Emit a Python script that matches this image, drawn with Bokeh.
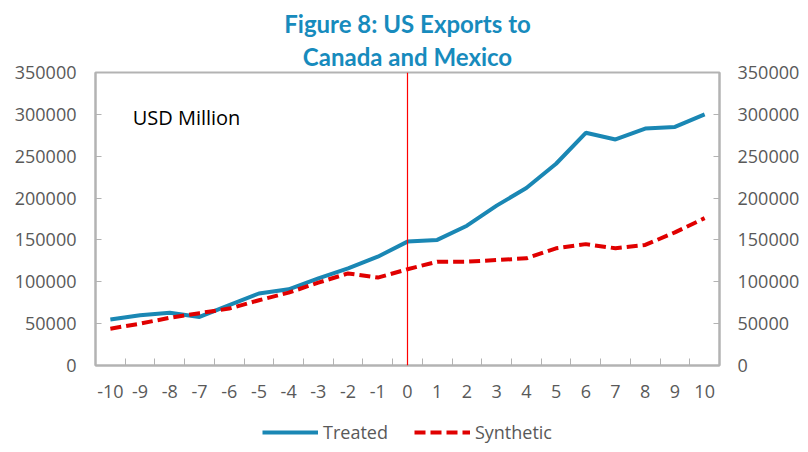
from bokeh.plotting import figure
from bokeh.layouts import column
from bokeh.models import (Range1d, LinearAxis, FixedTicker, BasicTickFormatter,
                          Span, Label, Legend, LegendItem, Title)
from bokeh.embed import file_html
from bokeh.resources import INLINE

# ---- data ----
periods = list(range(-10, 11))
treated = [55000, 60000, 63000, 58000, 72000, 86000, 91000, 104000, 116000, 130000,
           148000, 150000, 167000, 191000, 212000, 241000, 278000, 270000, 283000, 285000, 300000]
synthetic = [44000, 50000, 57000, 62500, 68000, 78000, 87000, 99000, 110000, 105000,
             115000, 124000, 124000, 126000, 128000, 140000, 145000, 140000, 144000, 159000, 176000]
y_ticks = [0, 50000, 100000, 150000, 200000, 250000, 300000, 350000]
x_tick_labels = {v: str(v) for v in periods}
title_lines = ["Figure 8: US Exports to", "Canada and Mexico"]
unit_label = "USD Million"
series_names = ["Treated", "Synthetic"]
treatment_period = 0

TEAL = "#1a87b4"
RED = "#e00000"
GRAY = "#b3b3b3"
TXT = "#595959"
FONT = "Open Sans"
TFONT = "Lato"

p = figure(frame_width=624, frame_height=293, output_backend="svg", toolbar_location=None,
           x_range=Range1d(-10.5, 10.5), y_range=Range1d(0, 350000),
           min_border_left=95, min_border_right=81, min_border_top=72, min_border_bottom=52,
           y_axis_location=None, x_axis_location=None)
p.title = None
p.background_fill_color = "white"
p.border_fill_color = "white"
p.outline_line_color = GRAY
p.outline_line_width = 2
p.xgrid.visible = False
p.ygrid.visible = False

# titles
t2 = Title(text=title_lines[1], align="center", text_font=TFONT,
           text_font_size="24px", text_font_style="bold", text_color="#178bbd", standoff=4)
t1 = Title(text=title_lines[0], align="center", text_font=TFONT,
           text_font_size="24px", text_font_style="bold", text_color="#178bbd", standoff=0)
p.add_layout(t2, "above")
p.add_layout(t1, "above")

def style_y(ax):
    ax.ticker = FixedTicker(ticks=y_ticks)
    ax.formatter = BasicTickFormatter(use_scientific=False)
    ax.axis_line_color = GRAY
    ax.axis_line_width = 2
    ax.major_tick_line_color = GRAY
    ax.major_tick_line_width = 1
    ax.major_tick_in = 6
    ax.major_tick_out = 0
    ax.minor_tick_line_color = None
    ax.major_label_text_font = FONT
    ax.major_label_text_font_size = "18px"
    ax.major_label_text_color = TXT
    ax.major_label_standoff = 19

yl = LinearAxis()
style_y(yl)
p.add_layout(yl, "left")
yr = LinearAxis()
style_y(yr)
yr.major_label_standoff = 18
p.add_layout(yr, "right")

xa = LinearAxis()
xa.ticker = FixedTicker(ticks=periods, minor_ticks=[v + 0.5 for v in periods[:-1]])
xa.major_label_overrides = x_tick_labels
xa.axis_line_color = GRAY
xa.axis_line_width = 2
xa.major_tick_line_color = None
xa.minor_tick_line_color = GRAY
xa.minor_tick_in = 7
xa.minor_tick_out = 0
xa.major_label_text_font = FONT
xa.major_label_text_font_size = "18px"
xa.major_label_text_color = TXT
xa.major_label_standoff = 13
p.add_layout(xa, "below")

p.add_layout(Span(location=treatment_period, dimension="height", line_color="#ff0000", line_width=1.2))

p.line(periods, treated, line_color=TEAL, line_width=4)
p.line(periods, synthetic, line_color=RED, line_width=4, line_dash="11 5")

p.add_layout(Label(x=-9.25, y=296000, text=unit_label, text_font=FONT, text_font_size="20px",
                   text_color="black", text_baseline="middle", text_align="left"))

# legend strip below the chart (proxy renderers draw nothing in the strip)
nan = float("nan")
lg = figure(width=800, height=27, output_backend="svg", toolbar_location=None,
            x_range=Range1d(0, 1), y_range=Range1d(0, 1), min_border=0,
            x_axis_location=None, y_axis_location=None)
lg.outline_line_color = None
lg.xgrid.visible = False
lg.ygrid.visible = False
k1 = lg.line([nan], [nan], line_color=TEAL, line_width=4)
k2 = lg.line([nan], [nan], line_color=RED, line_width=4, line_dash="11 5")
legend = Legend(items=[LegendItem(label=series_names[0], renderers=[k1]),
                       LegendItem(label=series_names[1], renderers=[k2])],
                orientation="horizontal", location=(167, 0),
                glyph_width=56, glyph_height=20, label_standoff=5, spacing=26,
                padding=0, margin=0, border_line_color=None, background_fill_alpha=0,
                label_text_font=FONT, label_text_font_size="18px", label_text_color=TXT)
lg.add_layout(legend, "center")

layout = column(p, lg, spacing=0)
open("out.html", "w").write(file_html(layout, INLINE))
